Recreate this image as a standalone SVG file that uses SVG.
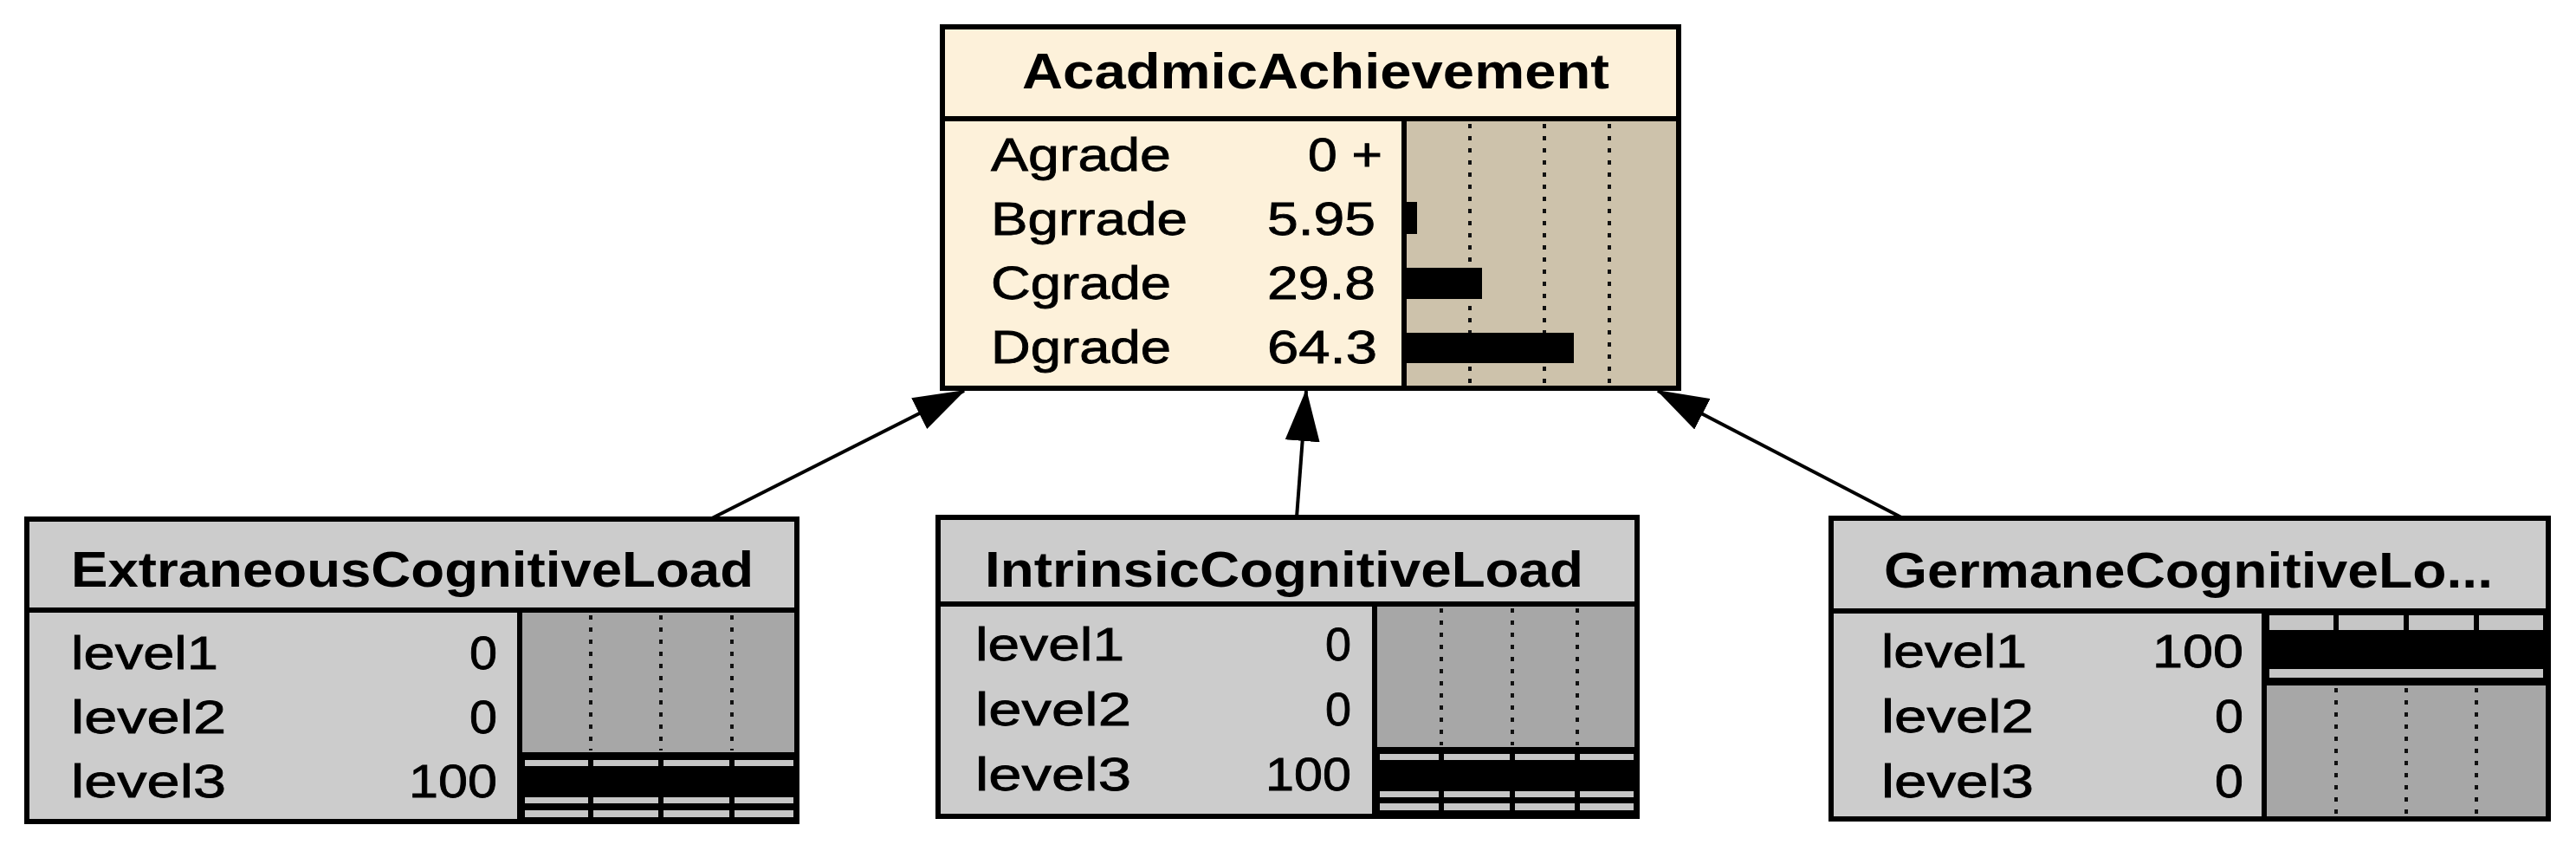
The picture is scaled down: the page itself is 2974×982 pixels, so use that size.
<svg xmlns="http://www.w3.org/2000/svg" width="2974" height="982" viewBox="0 0 2974 982">
<style>
.t{font-family:"Liberation Sans",Arial,sans-serif;font-weight:bold;font-size:57px;fill:#000}
.l{font-family:"Liberation Sans",Arial,sans-serif;font-size:53px;fill:#000;stroke:#000;stroke-width:0.8}
.v{font-family:"Liberation Sans",Arial,sans-serif;font-size:53px;fill:#000;stroke:#000;stroke-width:0.8;text-anchor:end}
.box{stroke:#000;stroke-width:6}
.sep{stroke:#000;stroke-width:6}
.grid{stroke:#111;stroke-width:4;stroke-dasharray:5 9}
.bar{fill:#000}
.st{fill:#c6c6c6}
.cream{fill:#fdf1da}
.tan{fill:#cdc2ab}
.gray{fill:#cccccc}
.dark{fill:#a7a7a7}
.conn{stroke:#000;stroke-width:4;fill:none}
</style>
<defs>
<marker id="arr" markerUnits="userSpaceOnUse" viewBox="0 0 60 40" markerWidth="60" markerHeight="40" refX="58" refY="20" orient="auto">
<path d="M0,0 L60,20 L0,40 z" fill="#000"/>
</marker>
</defs>
<rect width="2974" height="982" fill="#fff"/>

<g id="connectors">
<line class="conn" x1="822" y1="598" x2="1113" y2="451" marker-end="url(#arr)"/>
<line class="conn" x1="1497" y1="597" x2="1508" y2="451" marker-end="url(#arr)"/>
<line class="conn" x1="2197" y1="598" x2="1914" y2="451" marker-end="url(#arr)"/>
</g>

<g id="AcadmicAchievement">
<rect class="cream" x="1088" y="31" width="850" height="417"/>
<rect class="tan" x="1621" y="137" width="317" height="311"/>
<line class="grid" x1="1697" y1="143" x2="1697" y2="446"/>
<line class="grid" x1="1783" y1="143" x2="1783" y2="446"/>
<line class="grid" x1="1858" y1="143" x2="1858" y2="446"/>
<rect class="bar" x="1622" y="233" width="14" height="37"/>
<rect class="bar" x="1622" y="309" width="89" height="36"/>
<rect class="bar" x="1622" y="384" width="195" height="35"/>
<rect class="box" x="1088" y="31" width="850" height="417" fill="none"/>
<line class="sep" x1="1088" y1="137" x2="1938" y2="137"/>
<line class="sep" x1="1621" y1="137" x2="1621" y2="448"/>
<text class="t" x="1180" y="102" textLength="678" lengthAdjust="spacingAndGlyphs">AcadmicAchievement</text>
<text class="l" x="1144" y="197" textLength="208" lengthAdjust="spacingAndGlyphs">Agrade</text>
<text class="l" x="1144" y="271" textLength="227" lengthAdjust="spacingAndGlyphs">Bgrrade</text>
<text class="l" x="1144" y="345" textLength="208" lengthAdjust="spacingAndGlyphs">Cgrade</text>
<text class="l" x="1144" y="419" textLength="208" lengthAdjust="spacingAndGlyphs">Dgrade</text>
<text class="v" x="1596" y="197" textLength="86" lengthAdjust="spacingAndGlyphs">0 +</text>
<text class="v" x="1588" y="271" textLength="125" lengthAdjust="spacingAndGlyphs">5.95</text>
<text class="v" x="1588" y="345" textLength="125" lengthAdjust="spacingAndGlyphs">29.8</text>
<text class="v" x="1590" y="419" textLength="127" lengthAdjust="spacingAndGlyphs">64.3</text>
</g>

<g id="ExtraneousCognitiveLoad">
<rect class="gray" x="31" y="599" width="889" height="349"/>
<rect class="dark" x="600" y="704" width="320" height="164"/>
<line class="grid" x1="682" y1="710" x2="682" y2="866"/>
<line class="grid" x1="763" y1="710" x2="763" y2="866"/>
<line class="grid" x1="845" y1="710" x2="845" y2="866"/>
<rect class="bar" x="600" y="868" width="320" height="80"/>
<g class="st">
<rect x="606" y="877" width="73" height="7"/><rect x="685" y="877" width="75" height="7"/><rect x="766" y="877" width="76" height="7"/><rect x="848" y="877" width="68" height="7"/>
<rect x="606" y="920" width="73" height="7"/><rect x="685" y="920" width="75" height="7"/><rect x="766" y="920" width="76" height="7"/><rect x="848" y="920" width="68" height="7"/>
<rect x="606" y="935" width="73" height="8"/><rect x="685" y="935" width="75" height="8"/><rect x="766" y="935" width="76" height="8"/><rect x="848" y="935" width="68" height="8"/>
</g>
<rect class="box" x="31" y="599" width="889" height="349" fill="none"/>
<line class="sep" x1="31" y1="704" x2="920" y2="704"/>
<line class="sep" x1="600" y1="704" x2="600" y2="948"/>
<text class="t" x="82" y="677" textLength="788" lengthAdjust="spacingAndGlyphs">ExtraneousCognitiveLoad</text>
<text class="l" x="82" y="772" textLength="170" lengthAdjust="spacingAndGlyphs">level1</text>
<text class="l" x="82" y="846" textLength="179" lengthAdjust="spacingAndGlyphs">level2</text>
<text class="l" x="82" y="920" textLength="179" lengthAdjust="spacingAndGlyphs">level3</text>
<text class="v" x="574" y="772" textLength="32" lengthAdjust="spacingAndGlyphs">0</text>
<text class="v" x="574" y="846" textLength="32" lengthAdjust="spacingAndGlyphs">0</text>
<text class="v" x="574" y="920" textLength="102" lengthAdjust="spacingAndGlyphs">100</text>
</g>

<g id="IntrinsicCognitiveLoad">
<rect class="gray" x="1083" y="597" width="807" height="345"/>
<rect class="dark" x="1587" y="697" width="303" height="165"/>
<line class="grid" x1="1664" y1="702" x2="1664" y2="860"/>
<line class="grid" x1="1746" y1="702" x2="1746" y2="860"/>
<line class="grid" x1="1821" y1="702" x2="1821" y2="860"/>
<rect class="bar" x="1587" y="862" width="303" height="80"/>
<g class="st">
<rect x="1593" y="870" width="68" height="7"/><rect x="1667" y="870" width="76" height="7"/><rect x="1749" y="870" width="69" height="7"/><rect x="1824" y="870" width="62" height="7"/>
<rect x="1593" y="913" width="68" height="7"/><rect x="1667" y="913" width="76" height="7"/><rect x="1749" y="913" width="69" height="7"/><rect x="1824" y="913" width="62" height="7"/>
<rect x="1593" y="927" width="68" height="8"/><rect x="1667" y="927" width="76" height="8"/><rect x="1749" y="927" width="69" height="8"/><rect x="1824" y="927" width="62" height="8"/>
</g>
<rect class="box" x="1083" y="597" width="807" height="345" fill="none"/>
<line class="sep" x1="1083" y1="697" x2="1890" y2="697"/>
<line class="sep" x1="1587" y1="697" x2="1587" y2="942"/>
<text class="t" x="1137" y="677" textLength="691" lengthAdjust="spacingAndGlyphs">IntrinsicCognitiveLoad</text>
<text class="l" x="1126" y="762" textLength="172" lengthAdjust="spacingAndGlyphs">level1</text>
<text class="l" x="1126" y="837" textLength="180" lengthAdjust="spacingAndGlyphs">level2</text>
<text class="l" x="1126" y="912" textLength="180" lengthAdjust="spacingAndGlyphs">level3</text>
<text class="v" x="1560" y="762" textLength="30" lengthAdjust="spacingAndGlyphs">0</text>
<text class="v" x="1560" y="837" textLength="30" lengthAdjust="spacingAndGlyphs">0</text>
<text class="v" x="1560" y="912" textLength="99" lengthAdjust="spacingAndGlyphs">100</text>
</g>

<g id="GermaneCognitiveLoad">
<rect class="gray" x="2114" y="598" width="828" height="347"/>
<rect class="bar" x="2614" y="705" width="328" height="86"/>
<rect class="dark" x="2614" y="791" width="328" height="154"/>
<line class="grid" x1="2697" y1="794" x2="2697" y2="942"/>
<line class="grid" x1="2778" y1="794" x2="2778" y2="942"/>
<line class="grid" x1="2859" y1="794" x2="2859" y2="942"/>
<g class="st">
<rect x="2620" y="710" width="74" height="17"/><rect x="2700" y="710" width="75" height="17"/><rect x="2781" y="710" width="75" height="17"/><rect x="2862" y="710" width="74" height="17"/>
<rect x="2620" y="772" width="316" height="10"/>
</g>
<rect class="box" x="2114" y="598" width="828" height="347" fill="none"/>
<line class="sep" x1="2114" y1="705" x2="2942" y2="705"/>
<line class="sep" x1="2614" y1="705" x2="2614" y2="945"/>
<text class="t" x="2175" y="678" textLength="703" lengthAdjust="spacingAndGlyphs">GermaneCognitiveLo...</text>
<text class="l" x="2172" y="770" textLength="168" lengthAdjust="spacingAndGlyphs">level1</text>
<text class="l" x="2172" y="845" textLength="176" lengthAdjust="spacingAndGlyphs">level2</text>
<text class="l" x="2172" y="920" textLength="176" lengthAdjust="spacingAndGlyphs">level3</text>
<text class="v" x="2590" y="770" textLength="105" lengthAdjust="spacingAndGlyphs">100</text>
<text class="v" x="2590" y="845" textLength="33" lengthAdjust="spacingAndGlyphs">0</text>
<text class="v" x="2590" y="920" textLength="33" lengthAdjust="spacingAndGlyphs">0</text>
</g>
</svg>
